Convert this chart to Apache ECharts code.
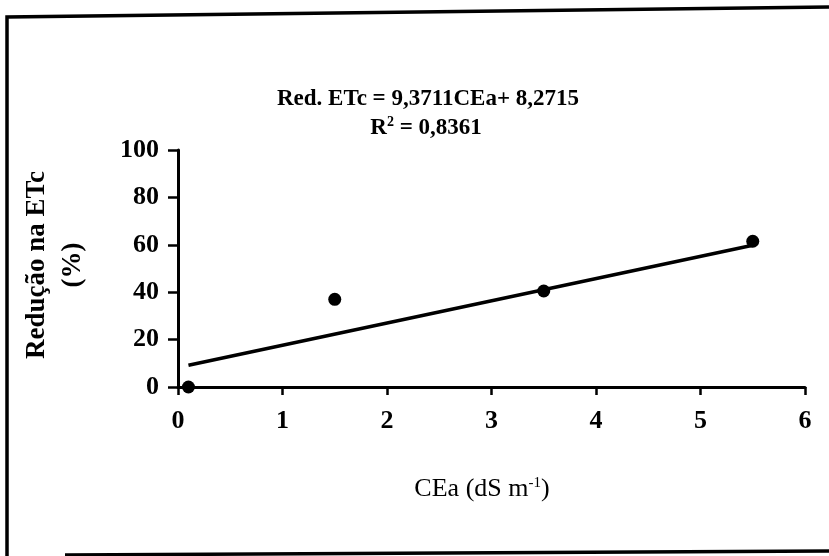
<!DOCTYPE html>
<html>
<head>
<meta charset="utf-8">
<script src="https://cdn.jsdelivr.net/npm/echarts@6/dist/echarts.min.js"></script>
<style>
  html, body { margin: 0; padding: 0; background: #fff; }
  #chart { width: 829px; height: 556px; }
</style>
</head>
<body>
<div id="chart"></div>
<script>
// Salinity of irrigation water (CEa) vs. reduction in crop evapotranspiration
const ceaValues = [0.1, 1.5, 3.5, 5.5];
const reductionValues = [0, 37, 40.5, 61.5];
const xTicks = [0, 1, 2, 3, 4, 5, 6];
const yTicks = [0, 20, 40, 60, 80, 100];

// Fitted linear regression: Red. ETc = slope * CEa + intercept
const slope = 9.3711;
const intercept = 8.2715;
const rSquared = 0.8361;
const fitRange = [0.1, 5.5];

const FONT = '"Liberation Serif", "Times New Roman", serif';
const chart = echarts.init(document.getElementById('chart'));

const points = ceaValues.map((x, i) => [x, reductionValues[i]]);
const fitLine = fitRange.map(x => [x, slope * x + intercept]);
const fmt = v => v.toFixed(4).replace('.', ',');

chart.setOption({
  animation: false,
  backgroundColor: '#fff',
  grid: { left: 178, right: 24, top: 150, bottom: 169 },
  xAxis: {
    type: 'value', min: xTicks[0], max: xTicks[xTicks.length - 1], interval: 1,
    axisLine: { lineStyle: { color: '#000', width: 3 } },
    axisTick: { show: true, inside: false, length: 8, lineStyle: { color: '#000', width: 2.5 } },
    axisLabel: { color: '#000', fontFamily: FONT, fontWeight: 'bold', fontSize: 26, margin: 21 },
    splitLine: { show: false }
  },
  yAxis: {
    type: 'value', min: yTicks[0], max: yTicks[yTicks.length - 1], interval: 20,
    axisLine: { lineStyle: { color: '#000', width: 3 } },
    axisTick: { show: true, inside: false, length: 10, lineStyle: { color: '#000', width: 2.5 } },
    axisLabel: { color: '#000', fontFamily: FONT, fontWeight: 'bold', fontSize: 26, margin: 19 },
    splitLine: { show: false }
  },
  series: [
    {
      type: 'line', data: fitLine, symbol: 'none', z: 2,
      lineStyle: { color: '#000', width: 3.5 }
    },
    {
      type: 'scatter', data: points, symbol: 'circle', symbolSize: 13, z: 3,
      itemStyle: { color: '#000', opacity: 1 }
    }
  ],
  graphic: [
    // outer frame
    { type: 'polyline', shape: { points: [[7, 556], [7, 17], [829, 7]] },
      style: { stroke: '#000', lineWidth: 3.5, fill: null } },
    { type: 'polyline', shape: { points: [[65, 555], [829, 551]] },
      style: { stroke: '#000', lineWidth: 3.5, fill: null } },
    // regression equation
    { type: 'text', x: 428, y: 99,
      style: { text: 'Red. ETc = ' + fmt(slope) + 'CEa+ ' + fmt(intercept),
        font: 'bold 23px ' + FONT, fill: '#000', align: 'center', verticalAlign: 'middle' } },
    { type: 'text', x: 426, y: 128,
      style: { text: '{n|R}{s|2}{n| = ' + fmt(rSquared) + '}',
        align: 'center', verticalAlign: 'middle',
        rich: {
          n: { font: 'bold 23px ' + FONT, fill: '#000' },
          s: { font: 'bold 14px ' + FONT, fill: '#000', padding: [0, 0, 11, 0] }
        } } },
    // axis titles
    { type: 'text', x: 37, y: 265, rotation: Math.PI / 2,
      style: { text: 'Redução na ETc', font: 'bold 27px ' + FONT, fill: '#000',
        align: 'center', verticalAlign: 'middle' } },
    { type: 'text', x: 73, y: 265, rotation: Math.PI / 2,
      style: { text: '(%)', font: 'bold 27px ' + FONT, fill: '#000',
        align: 'center', verticalAlign: 'middle' } },
    { type: 'text', x: 482, y: 489,
      style: { text: '{n|CEa (dS m}{s|-1}{n|)}',
        align: 'center', verticalAlign: 'middle',
        rich: {
          n: { font: '26px ' + FONT, fill: '#000' },
          s: { font: '15px ' + FONT, fill: '#000', padding: [0, 0, 12, 0] }
        } } }
  ]
});
</script>
</body>
</html>
